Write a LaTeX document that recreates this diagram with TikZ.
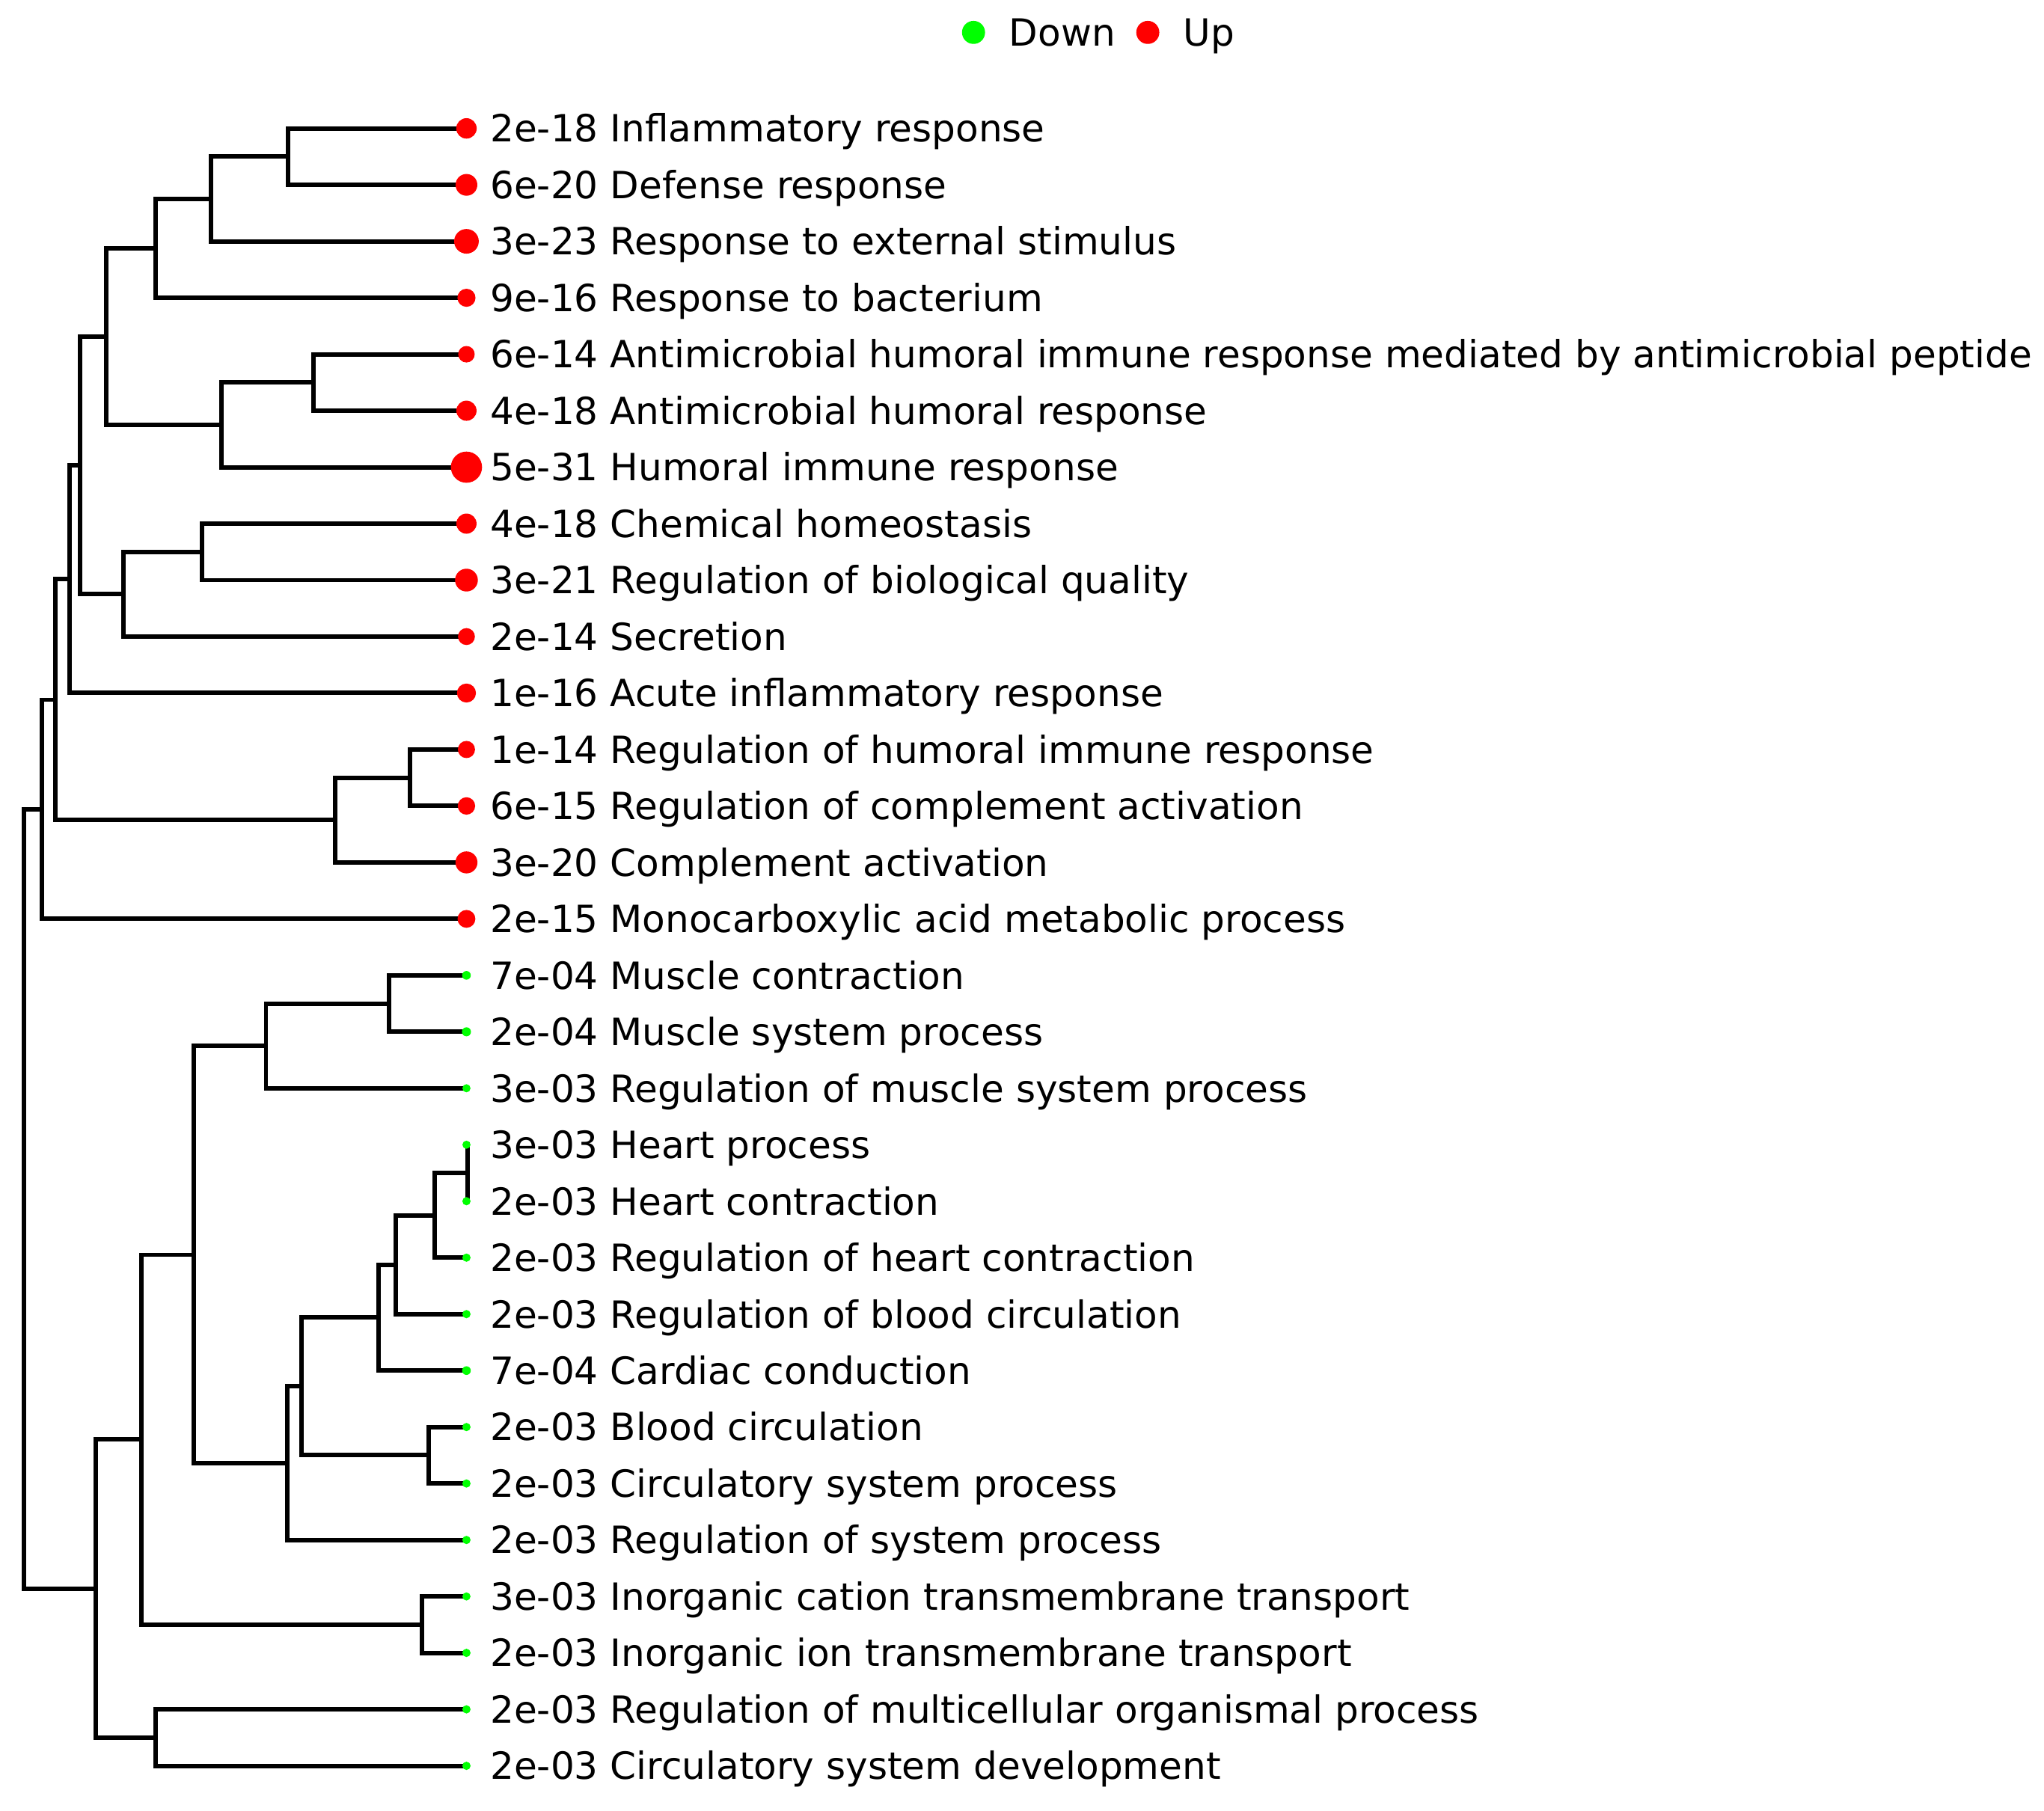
\documentclass[tikz,border=0pt]{standalone}
\usepackage{fontspec}
\setmainfont{DejaVu Sans}
\tikzset{
  branch/.style={line width=3.4pt},
  updot/.style={circle,fill=red,inner sep=0pt,minimum size=#1},
  downdot/.style={circle,fill=green,inner sep=0pt,minimum size=#1},
  term/.style={anchor=west,inner sep=0pt,text height=20.85pt,text depth=0pt,
    font=\fontsize{28.6}{34}\selectfont},
}
\begin{document}
\begin{tikzpicture}[x=1pt,y=-43.10pt]
            \useasboundingbox (0,-2.274) rectangle (1560,29.79);
            % legend
            \node[downdot=17.6pt] (kdown) at (743,-1.70) {};
            \node[term] (tdown) at (770,-1.70) {Down};
            \node[updot=17.6pt] (kup) at (876,-1.70) {};
            \node[term] (tup) at (903,-1.70) {Up};
            % branch points
            \coordinate (a1) at (220,0.5);
            \coordinate (a2) at (161,1.25);
            \coordinate (a3) at (119,2.125);
            \coordinate (a4) at (239,4.5);
            \coordinate (a5) at (169,5.25);
            \coordinate (a6) at (81,3.6875);
            \coordinate (a7) at (154,7.5);
            \coordinate (a8) at (94,8.25);
            \coordinate (a9) at (61,5.97);
            \coordinate (a10) at (53,7.98);
            \coordinate (a11) at (313,11.5);
            \coordinate (a12) at (256,12.25);
            \coordinate (a13) at (42,10.12);
            \coordinate (a14) at (32,12.06);
            \coordinate (b1) at (297,15.5);
            \coordinate (b2) at (203,16.25);
            \coordinate (b3) at (357,18.5);
            \coordinate (b4) at (332,19.25);
            \coordinate (b5) at (302,20.125);
            \coordinate (b6) at (289,21.06);
            \coordinate (b7) at (327,23.5);
            \coordinate (b8) at (230,22.28);
            \coordinate (b9) at (219,23.64);
            \coordinate (b10) at (148,19.95);
            \coordinate (b11) at (322,26.5);
            \coordinate (b12) at (108,23.22);
            \coordinate (b13) at (119,28.5);
            \coordinate (b14) at (73,25.86);
            \coordinate (root) at (18,18.96);
            % leaves
            \coordinate (l0) at (356,0);
            \coordinate (l1) at (356,1);
            \coordinate (l2) at (356,2);
            \coordinate (l3) at (356,3);
            \coordinate (l4) at (356,4);
            \coordinate (l5) at (356,5);
            \coordinate (l6) at (356,6);
            \coordinate (l7) at (356,7);
            \coordinate (l8) at (356,8);
            \coordinate (l9) at (356,9);
            \coordinate (l10) at (356,10);
            \coordinate (l11) at (356,11);
            \coordinate (l12) at (356,12);
            \coordinate (l13) at (356,13);
            \coordinate (l14) at (356,14);
            \coordinate (l15) at (356,15);
            \coordinate (l16) at (356,16);
            \coordinate (l17) at (356,17);
            \coordinate (l18) at (356,18);
            \coordinate (l19) at (356,19);
            \coordinate (l20) at (356,20);
            \coordinate (l21) at (356,21);
            \coordinate (l22) at (356,22);
            \coordinate (l23) at (356,23);
            \coordinate (l24) at (356,24);
            \coordinate (l25) at (356,25);
            \coordinate (l26) at (356,26);
            \coordinate (l27) at (356,27);
            \coordinate (l28) at (356,28);
            \coordinate (l29) at (356,29);
            % up branches
            \draw[branch] (l0) -| (a1) |- (l1);
            \draw[branch] (a1) -| (a2) |- (l2);
            \draw[branch] (a2) -| (a3) |- (l3);
            \draw[branch] (l4) -| (a4) |- (l5);
            \draw[branch] (a4) -| (a5) |- (l6);
            \draw[branch] (a3) -| (a6) |- (a5);
            \draw[branch] (l7) -| (a7) |- (l8);
            \draw[branch] (a7) -| (a8) |- (l9);
            \draw[branch] (a6) -| (a9) |- (a8);
            \draw[branch] (a9) -| (a10) |- (l10);
            \draw[branch] (l11) -| (a11) |- (l12);
            \draw[branch] (a11) -| (a12) |- (l13);
            \draw[branch] (a10) -| (a13) |- (a12);
            \draw[branch] (a13) -| (a14) |- (l14);
            % down branches
            \draw[branch] (l15) -| (b1) |- (l16);
            \draw[branch] (b1) -| (b2) |- (l17);
            \draw[branch] (l18) -| (b3) |- (l19);
            \draw[branch] (b3) -| (b4) |- (l20);
            \draw[branch] (b4) -| (b5) |- (l21);
            \draw[branch] (b5) -| (b6) |- (l22);
            \draw[branch] (l23) -| (b7) |- (l24);
            \draw[branch] (b6) -| (b8) |- (b7);
            \draw[branch] (b8) -| (b9) |- (l25);
            \draw[branch] (b2) -| (b10) |- (b9);
            \draw[branch] (l26) -| (b11) |- (l27);
            \draw[branch] (b10) -| (b12) |- (b11);
            \draw[branch] (l28) -| (b13) |- (l29);
            \draw[branch] (b12) -| (b14) |- (b13);
            \draw[branch] (a14) -| (root) |- (b14);
            % dots
            \node[updot=15.6pt] (d0) at (l0) {};
            \node[updot=16.6pt] (d1) at (l1) {};
            \node[updot=18.8pt] (d2) at (l2) {};
            \node[updot=13.8pt] (d3) at (l3) {};
            \node[updot=12.6pt] (d4) at (l4) {};
            \node[updot=15.4pt] (d5) at (l5) {};
            \node[updot=23.8pt] (d6) at (l6) {};
            \node[updot=15.4pt] (d7) at (l7) {};
            \node[updot=17.4pt] (d8) at (l8) {};
            \node[updot=12.9pt] (d9) at (l9) {};
            \node[updot=14.5pt] (d10) at (l10) {};
            \node[updot=13.1pt] (d11) at (l11) {};
            \node[updot=13.3pt] (d12) at (l12) {};
            \node[updot=16.8pt] (d13) at (l13) {};
            \node[updot=13.6pt] (d14) at (l14) {};
            \node[downdot=6.6pt] (d15) at (l15) {};
            \node[downdot=6.9pt] (d16) at (l16) {};
            \node[downdot=6.2pt] (d17) at (l17) {};
            \node[downdot=6.2pt] (d18) at (l18) {};
            \node[downdot=6.3pt] (d19) at (l19) {};
            \node[downdot=6.3pt] (d20) at (l20) {};
            \node[downdot=6.3pt] (d21) at (l21) {};
            \node[downdot=6.6pt] (d22) at (l22) {};
            \node[downdot=6.3pt] (d23) at (l23) {};
            \node[downdot=6.3pt] (d24) at (l24) {};
            \node[downdot=6.3pt] (d25) at (l25) {};
            \node[downdot=6.2pt] (d26) at (l26) {};
            \node[downdot=6.3pt] (d27) at (l27) {};
            \node[downdot=6.3pt] (d28) at (l28) {};
            \node[downdot=6.3pt] (d29) at (l29) {};
            % terms
            \node[term] (t0) at (374,0) {2e-18 Inflammatory response};
            \node[term] (t1) at (374,1) {6e-20 Defense response};
            \node[term] (t2) at (374,2) {3e-23 Response to external stimulus};
            \node[term] (t3) at (374,3) {9e-16 Response to bacterium};
            \node[term] (t4) at (374,4) {6e-14 Antimicrobial humoral immune response mediated by antimicrobial peptide};
            \node[term] (t5) at (374,5) {4e-18 Antimicrobial humoral response};
            \node[term] (t6) at (374,6) {5e-31 Humoral immune response};
            \node[term] (t7) at (374,7) {4e-18 Chemical homeostasis};
            \node[term] (t8) at (374,8) {3e-21 Regulation of biological quality};
            \node[term] (t9) at (374,9) {2e-14 Secretion};
            \node[term] (t10) at (374,10) {1e-16 Acute inflammatory response};
            \node[term] (t11) at (374,11) {1e-14 Regulation of humoral immune response};
            \node[term] (t12) at (374,12) {6e-15 Regulation of complement activation};
            \node[term] (t13) at (374,13) {3e-20 Complement activation};
            \node[term] (t14) at (374,14) {2e-15 Monocarboxylic acid metabolic process};
            \node[term] (t15) at (374,15) {7e-04 Muscle contraction};
            \node[term] (t16) at (374,16) {2e-04 Muscle system process};
            \node[term] (t17) at (374,17) {3e-03 Regulation of muscle system process};
            \node[term] (t18) at (374,18) {3e-03 Heart process};
            \node[term] (t19) at (374,19) {2e-03 Heart contraction};
            \node[term] (t20) at (374,20) {2e-03 Regulation of heart contraction};
            \node[term] (t21) at (374,21) {2e-03 Regulation of blood circulation};
            \node[term] (t22) at (374,22) {7e-04 Cardiac conduction};
            \node[term] (t23) at (374,23) {2e-03 Blood circulation};
            \node[term] (t24) at (374,24) {2e-03 Circulatory system process};
            \node[term] (t25) at (374,25) {2e-03 Regulation of system process};
            \node[term] (t26) at (374,26) {3e-03 Inorganic cation transmembrane transport};
            \node[term] (t27) at (374,27) {2e-03 Inorganic ion transmembrane transport};
            \node[term] (t28) at (374,28) {2e-03 Regulation of multicellular organismal process};
            \node[term] (t29) at (374,29) {2e-03 Circulatory system development};
\end{tikzpicture}
\end{document}
